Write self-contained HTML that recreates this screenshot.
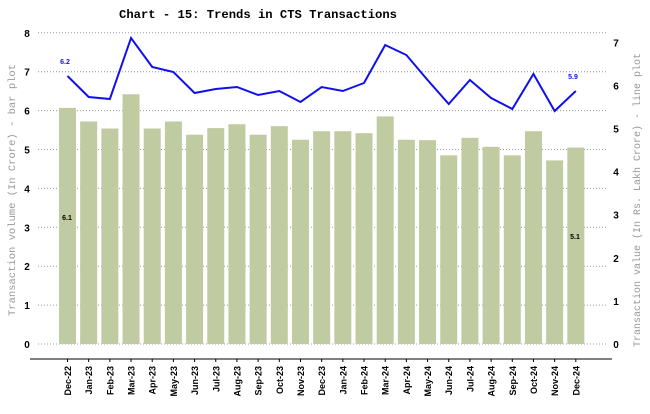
<!DOCTYPE html>
<html><head><meta charset="utf-8"><style>body{margin:0;background:#fff}</style></head>
<body>
<svg width="650" height="409" xmlns="http://www.w3.org/2000/svg" font-family="Liberation Sans, sans-serif">
<rect width="650" height="409" fill="#fff"/>
<text x="258" y="18" text-anchor="middle" font-family="Liberation Mono, monospace" font-weight="bold" font-size="12.2">Chart - 15: Trends in CTS Transactions</text>
<g id="grid" stroke="#999" stroke-dasharray="1,2" stroke-width="1"></g>
<g id="bars" fill="#c0cba1"></g>
<line x1="30" y1="359" x2="612" y2="359" stroke="#000" stroke-width="1"/>
<g id="xl" font-size="9" font-weight="bold" fill="#000"></g>
<g id="yl" font-size="10" font-weight="bold" fill="#000"></g>
<polyline id="ln" fill="none" stroke="#1010ee" stroke-width="2"/>
<text x="65" y="64" text-anchor="middle" font-size="7" font-weight="bold" fill="#1010ee">6.2</text>
<text x="573" y="79" text-anchor="middle" font-size="7" font-weight="bold" fill="#1010ee">5.9</text>
<text x="67" y="220" text-anchor="middle" font-size="7" font-weight="bold">6.1</text>
<text x="575" y="239" text-anchor="middle" font-size="7" font-weight="bold">5.1</text>
<text transform="translate(15,190) rotate(-90)" text-anchor="middle" font-family="Liberation Mono, monospace" font-size="10.5" fill="#999">Transaction volume (In Crore) - bar plot</text>
<text transform="translate(640,200) rotate(-90)" text-anchor="middle" font-family="Liberation Mono, monospace" font-size="10" fill="#999">Transaction value (In Rs. Lakh Crore) - line plot</text>
</svg>
<script>
const ns="http://www.w3.org/2000/svg";
const months=["Dec-22","Jan-23","Feb-23","Mar-23","Apr-23","May-23","Jun-23","Jul-23","Aug-23","Sep-23","Oct-23","Nov-23","Dec-23","Jan-24","Feb-24","Mar-24","Apr-24","May-24","Jun-24","Jul-24","Aug-24","Sep-24","Oct-24","Nov-24","Dec-24"];
const bars=[6.07,5.72,5.54,6.42,5.54,5.72,5.38,5.55,5.65,5.38,5.6,5.25,5.47,5.47,5.42,5.85,5.25,5.24,4.85,5.3,5.07,4.85,5.47,4.72,5.05];
const ly=[76,97,99,38,67,72,93,89,87,95,91,102,87,91,83,45,55,80,104,80,98,109,74,111,91];
function el(t,a,p,txt){const e=document.createElementNS(ns,t);for(const k in a)e.setAttribute(k,a[k]);if(txt)e.textContent=txt;document.getElementById(p).appendChild(e);}
const y0=344,pu=38.9;
for(let i=0;i<=8;i++){const y=y0-i*pu;el("line",{x1:38,y1:y,x2:608,y2:y},"grid");el("text",{x:27,y:y+4,"text-anchor":"middle"},"yl",""+i);}
for(let i=0;i<=7;i++){const y=y0-i*43.1;el("text",{x:616,y:y+4,"text-anchor":"middle"},"yl",""+i);}
let pts=[];
months.forEach((m,i)=>{const cx=67.5+i*21.18;const h=bars[i]*pu;
el("rect",{x:cx-8.5,y:y0-h,width:17,height:h},"bars");
el("line",{x1:cx,y1:359,x2:cx,y2:362,stroke:"#000"},"xl");
el("text",{transform:`translate(${cx+3.5},366) rotate(-90)`,"text-anchor":"end"},"xl",m);
pts.push(cx+","+ly[i]);});
document.getElementById("ln").setAttribute("points",pts.join(" "));
</script>
</body></html>
